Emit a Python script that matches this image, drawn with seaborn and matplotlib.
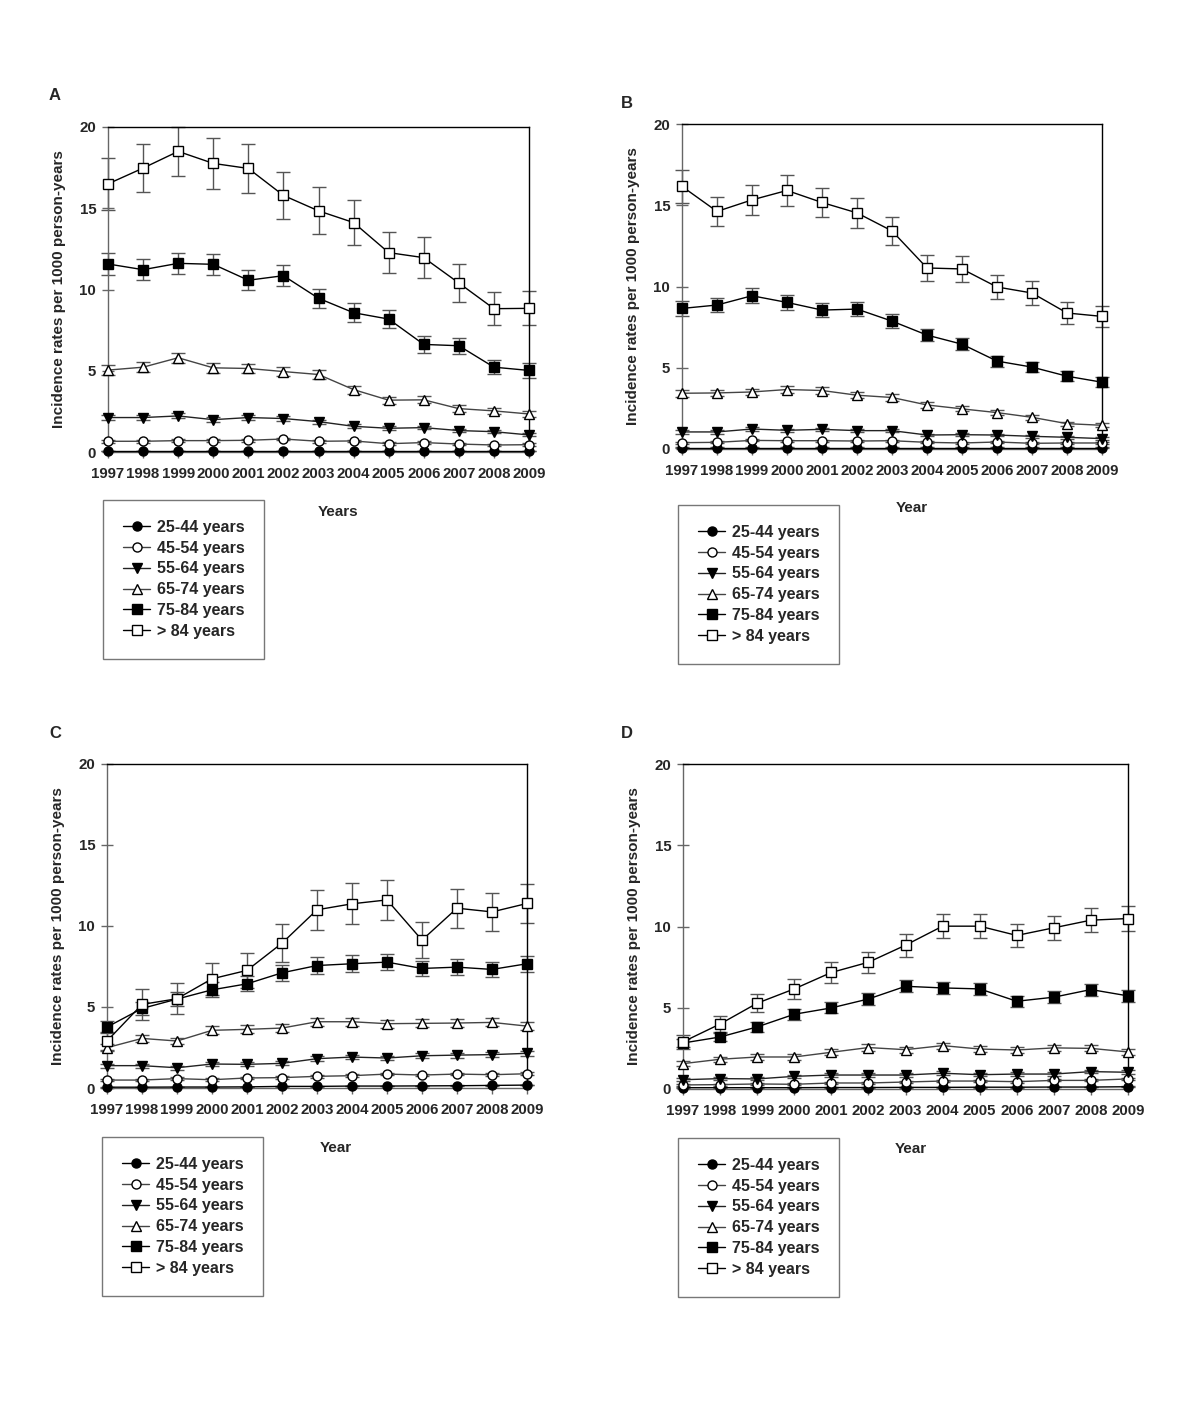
import numpy as np
import matplotlib
matplotlib.use("Agg")
import matplotlib.pyplot as plt
import seaborn as sns

sns.set_style("white")
plt.rcParams["font.family"] = ["Liberation Sans", "DejaVu Sans"]
plt.rcParams["font.weight"] = "bold"

years = list(range(1997, 2010))
groups = ["25-44 years", "45-54 years", "55-64 years", "65-74 years", "75-84 years", "> 84 years"]

# rates per panel, one list per age group (same order as groups)
a_rates = [
    [0.07] * 13,
    [0.66, 0.66, 0.70, 0.70, 0.72, 0.80, 0.66, 0.68, 0.51, 0.58, 0.49, 0.43, 0.45],
    [2.12, 2.12, 2.22, 1.99, 2.12, 2.06, 1.87, 1.58, 1.46, 1.50, 1.32, 1.25, 1.05],
    [5.04, 5.22, 5.80, 5.18, 5.14, 4.95, 4.77, 3.84, 3.19, 3.21, 2.67, 2.53, 2.34],
    [11.57, 11.22, 11.61, 11.55, 10.57, 10.85, 9.46, 8.57, 8.18, 6.62, 6.54, 5.22, 5.02],
    [16.5, 17.47, 18.5, 17.76, 17.45, 15.79, 14.84, 14.12, 12.27, 11.96, 10.4, 8.82, 8.84],
]
a_err = [
    [0.02] * 13,
    [0.08] * 13,
    [0.15, 0.15, 0.15, 0.14, 0.14, 0.14, 0.13, 0.12, 0.11, 0.11, 0.10, 0.10, 0.09],
    [0.30, 0.30, 0.32, 0.30, 0.30, 0.29, 0.28, 0.25, 0.22, 0.22, 0.20, 0.19, 0.19],
    [0.68, 0.63, 0.66, 0.64, 0.60, 0.64, 0.58, 0.57, 0.54, 0.50, 0.49, 0.45, 0.44],
    [1.6, 1.5, 1.5, 1.57, 1.5, 1.47, 1.44, 1.39, 1.28, 1.25, 1.15, 1.0, 1.05],
]

b_rates = [
    [0.08] * 13,
    [0.39, 0.41, 0.53, 0.51, 0.51, 0.49, 0.51, 0.41, 0.37, 0.43, 0.35, 0.37, 0.37],
    [1.05, 1.05, 1.23, 1.15, 1.21, 1.13, 1.13, 0.86, 0.88, 0.86, 0.78, 0.72, 0.64],
    [3.43, 3.45, 3.51, 3.66, 3.60, 3.31, 3.17, 2.71, 2.47, 2.24, 1.95, 1.56, 1.46],
    [8.65, 8.86, 9.43, 9.02, 8.55, 8.61, 7.87, 7.01, 6.45, 5.41, 5.04, 4.48, 4.11],
    [16.16, 14.62, 15.33, 15.91, 15.17, 14.53, 13.42, 11.14, 11.08, 9.97, 9.60, 8.37, 8.16],
]
b_err = [
    [0.02] * 13,
    [0.06] * 13,
    [0.10, 0.10, 0.11, 0.10, 0.10, 0.10, 0.10, 0.09, 0.09, 0.09, 0.08, 0.08, 0.08],
    [0.20, 0.20, 0.20, 0.20, 0.20, 0.19, 0.19, 0.17, 0.16, 0.15, 0.14, 0.13, 0.12],
    [0.45, 0.45, 0.45, 0.45, 0.43, 0.43, 0.41, 0.39, 0.37, 0.34, 0.33, 0.31, 0.30],
    [1.0, 0.9, 0.9, 0.94, 0.92, 0.9, 0.86, 0.8, 0.82, 0.73, 0.73, 0.67, 0.66],
]

c_rates = [
    [0.05, 0.05, 0.06, 0.06, 0.07, 0.10, 0.10, 0.12, 0.12, 0.13, 0.14, 0.16, 0.18],
    [0.49, 0.49, 0.58, 0.51, 0.62, 0.64, 0.72, 0.76, 0.86, 0.80, 0.86, 0.82, 0.88],
    [1.38, 1.38, 1.25, 1.48, 1.46, 1.52, 1.81, 1.91, 1.85, 1.99, 2.03, 2.06, 2.14],
    [2.49, 3.06, 2.90, 3.56, 3.62, 3.70, 4.09, 4.09, 3.97, 3.99, 4.01, 4.05, 3.82],
    [3.76, 4.91, 5.49, 6.06, 6.43, 7.11, 7.56, 7.67, 7.77, 7.38, 7.46, 7.32, 7.67],
    [2.90, 5.16, 5.51, 6.74, 7.26, 8.94, 11.0, 11.37, 11.61, 9.13, 11.10, 10.87, 11.39],
]
c_err = [
    [0.02] * 13,
    [0.08] * 13,
    [0.12, 0.12, 0.12, 0.13, 0.13, 0.13, 0.14, 0.15, 0.14, 0.15, 0.15, 0.15, 0.15],
    [0.20, 0.22, 0.21, 0.24, 0.24, 0.24, 0.26, 0.26, 0.25, 0.25, 0.25, 0.25, 0.24],
    [0.35, 0.42, 0.45, 0.47, 0.47, 0.49, 0.50, 0.51, 0.51, 0.49, 0.49, 0.48, 0.50],
    [0.55, 0.95, 0.95, 1.0, 1.07, 1.16, 1.23, 1.26, 1.26, 1.1, 1.2, 1.18, 1.2],
]

d_rates = [
    [0.08, 0.08, 0.08, 0.08, 0.09, 0.09, 0.10, 0.10, 0.11, 0.11, 0.12, 0.12, 0.14],
    [0.25, 0.27, 0.31, 0.29, 0.37, 0.37, 0.43, 0.49, 0.49, 0.45, 0.53, 0.53, 0.62],
    [0.57, 0.64, 0.62, 0.78, 0.86, 0.86, 0.86, 0.97, 0.88, 0.92, 0.92, 1.07, 1.03],
    [1.56, 1.83, 1.97, 1.97, 2.26, 2.55, 2.42, 2.67, 2.46, 2.40, 2.53, 2.50, 2.28],
    [2.83, 3.20, 3.82, 4.60, 4.99, 5.54, 6.32, 6.22, 6.16, 5.40, 5.65, 6.12, 5.73],
    [2.90, 4.00, 5.28, 6.16, 7.17, 7.80, 8.85, 10.02, 10.02, 9.45, 9.92, 10.39, 10.49],
]
d_err = [
    [0.02] * 13,
    [0.06] * 13,
    [0.08, 0.09, 0.09, 0.10, 0.10, 0.10, 0.10, 0.11, 0.10, 0.10, 0.10, 0.11, 0.11],
    [0.15, 0.16, 0.17, 0.17, 0.18, 0.19, 0.18, 0.19, 0.18, 0.18, 0.18, 0.18, 0.17],
    [0.25, 0.27, 0.30, 0.33, 0.34, 0.36, 0.38, 0.38, 0.37, 0.35, 0.36, 0.37, 0.37],
    [0.45, 0.5, 0.56, 0.6, 0.63, 0.66, 0.7, 0.74, 0.74, 0.7, 0.73, 0.75, 0.77],
]

markers = ["o", "o", "v", "^", "s", "s"]
faces = ["black", "white", "black", "white", "black", "white"]
line_cols = ["black", "#444444", "#222222", "#444444", "black", "black"]

W, H = 1200, 1412


def box(l, r, t, b):
    return [l / W, 1 - b / H, (r - l) / W, (b - t) / H]


panels = [
    ("A", a_rates, a_err, box(108, 529, 127, 452), "Years", (55, 95), (338, 512), (103, 500)),
    ("B", b_rates, b_err, box(682, 1102, 124, 449), "Year", (627, 103), (912, 508), (678, 505)),
    ("C", c_rates, c_err, box(107, 527, 764, 1088), "Year", (55, 733), (336, 1148), (102, 1137)),
    ("D", d_rates, d_err, box(683, 1128, 764, 1089), "Year", (627, 733), (911, 1149), (678, 1138)),
]

fig = plt.figure(figsize=(12, 14.12), dpi=100)

for letter, rates, errs, pos, xlab, lpos, xlpos, legpos in panels:
    ax = fig.add_axes(pos)
    handles = []
    for i, g in enumerate(groups):
        ax.errorbar(years, rates[i], yerr=errs[i], fmt="none", ecolor="#555555",
                    elinewidth=1, capsize=5, capthick=1, clip_on=False, zorder=2)
        sns.lineplot(x=years, y=rates[i], ax=ax, color=line_cols[i], lw=1, marker=markers[i],
                     markersize=6.5, markerfacecolor=faces[i],
                     markeredgecolor="black", markeredgewidth=1, clip_on=False, zorder=3)
        handles.append(ax.lines[-1])
    ax.set_xlim(1997, 2009)
    ax.set_ylim(0, 20)
    ax.set_xticks(years)
    ax.set_yticks([0, 5, 10, 15, 20])
    ax.tick_params(axis="x", labelsize=10.8, length=4, width=1, direction="out",
                   color="#666666", pad=7, bottom=True)
    ax.tick_params(axis="y", labelsize=10.8, length=9, width=1, direction="inout",
                   color="#666666", pad=4, left=True)
    for lab in ax.get_xticklabels() + ax.get_yticklabels():
        lab.set_fontweight("bold")
    ax.spines["left"].set_color("#666666")
    ax.spines["bottom"].set_color("#666666")
    ax.spines["top"].set_color("black")
    ax.spines["right"].set_color("black")
    for s in ax.spines.values():
        s.set_linewidth(1)
    ax.set_xlabel("")
    ax.set_ylabel("Incidence rates per 1000 person-years", fontsize=11, fontweight="bold", labelpad=10)
    fig.text(lpos[0] / W, 1 - lpos[1] / H, letter, fontsize=12, fontweight="bold", ha="center", va="center")
    fig.text(xlpos[0] / W, 1 - xlpos[1] / H, xlab, fontsize=11, fontweight="bold", ha="center", va="center")
    leg = fig.legend(handles, groups, loc="upper left",
                     bbox_to_anchor=(legpos[0] / W, 1 - legpos[1] / H),
                     frameon=True, fancybox=False, edgecolor="#555555",
                     prop={"weight": "bold", "size": 11.5}, handlelength=1.7,
                     borderpad=1.25, labelspacing=0.36, handletextpad=0.4, borderaxespad=0)
    leg.get_frame().set_linewidth(1)

fig.savefig("out.png", dpi=100)
